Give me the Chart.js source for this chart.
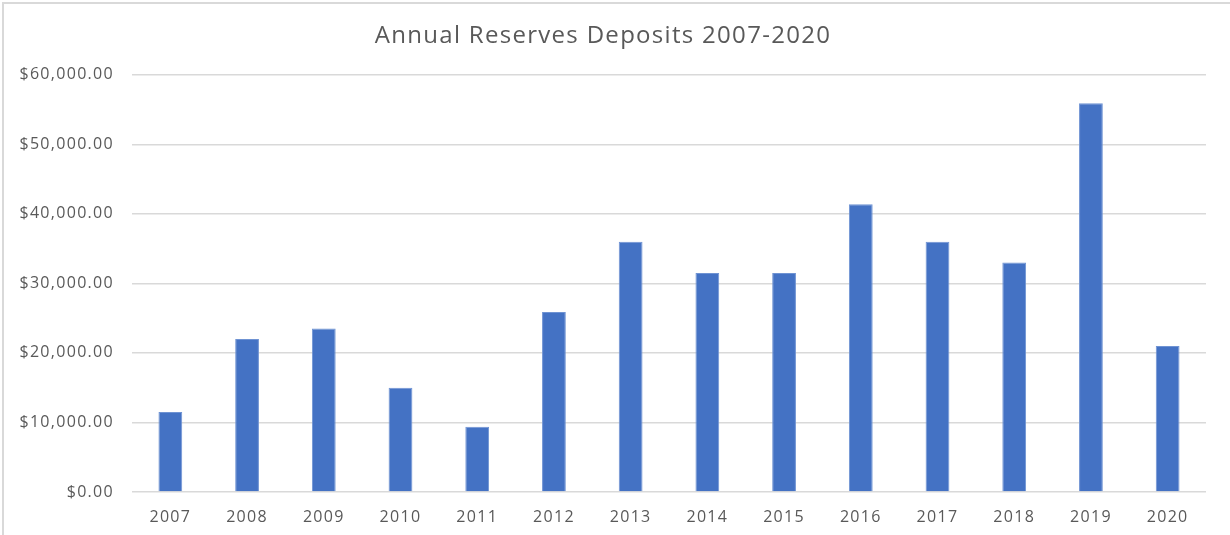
<!DOCTYPE html>
<html>
<head>
<meta charset="utf-8">
<title>Annual Reserves Deposits 2007-2020</title>
<script src="https://cdn.jsdelivr.net/npm/chart.js@4/dist/chart.umd.min.js"></script>
<style>
  html, body { margin: 0; padding: 0; background: #fff; }
  #wrap {
    position: relative;
    width: 1230px;
    height: 535px;
  }
  #frame {
    position: absolute;
    left: 2px; top: 2px; right: 0; bottom: 0;
    border-top: 2px solid #d9d9d9;
    border-left: 2px solid #d9d9d9;
    pointer-events: none;
  }
  canvas { position: absolute; left: 0; top: 0; }
</style>
</head>
<body>
<div id="wrap">
  <canvas id="bar_chart" width="1230" height="535"></canvas>
  <div id="frame"></div>
</div>
<script>
// yearly deposits into reserves
var years = ['2007', '2008', '2009', '2010', '2011', '2012', '2013',
             '2014', '2015', '2016', '2017', '2018', '2019', '2020'];
var deposits = [11500, 22000, 23500, 15000, 9400, 25900, 36000,
                31500, 31500, 41400, 36000, 33000, 55900, 21000];
var yTicks = [0, 10000, 20000, 30000, 40000, 50000, 60000];

var textColor = '#595959';
var gridColor = '#d9d9d9';

function money(v) {
    return '$' + Number(v).toLocaleString('en-US', { minimumFractionDigits: 2, maximumFractionDigits: 2 });
}

// text is a bit wider than the stock font, so spread the letters a little
var spacing = {
    id: 'spacing',
    beforeUpdate: function (chart) { chart.ctx.letterSpacing = '1.3px'; },
    beforeDraw: function (chart) { chart.ctx.letterSpacing = '1.3px'; }
};

var ctx = document.getElementById('bar_chart').getContext('2d');
new Chart(ctx, {
    type: 'bar',
    data: {
        labels: years,
        datasets: [{
            label: 'Deposits',
            data: deposits,
            backgroundColor: '#4472C4',
            borderColor: '#6f93d3',
            borderWidth: 1,
            categoryPercentage: 1,
            barPercentage: 0.31
        }]
    },
    plugins: [spacing],
    options: {
        responsive: false,
        animation: false,
        layout: { padding: { top: 0, right: 24, bottom: 0, left: 0 } },
        plugins: {
            legend: { display: false },
            tooltip: { enabled: false },
            title: {
                display: true,
                text: 'Annual Reserves Deposits 2007-2020',
                color: textColor,
                font: { family: 'Open Sans', size: 24, weight: 'normal' },
                padding: { top: 22, bottom: 24 }
            }
        },
        scales: {
            x: {
                grid: { display: false, drawTicks: false },
                border: { display: false },
                ticks: {
                    color: textColor,
                    font: { family: 'Open Sans', size: 16 },
                    padding: 16,
                    maxRotation: 0
                },
                afterFit: function (axis) { axis.height = 43; }
            },
            y: {
                min: 0,
                max: 60000,
                afterBuildTicks: function (axis) {
                    axis.ticks = yTicks.map(function (v) { return { value: v }; });
                },
                grid: { color: gridColor, lineWidth: 1.5, drawTicks: false },
                border: { display: false },
                ticks: {
                    color: textColor,
                    font: { family: 'Open Sans', size: 16 },
                    padding: 18,
                    callback: function (v) { return money(v); }
                },
                afterFit: function (axis) { axis.width = 132; }
            }
        }
    }
});
</script>
</body>
</html>
